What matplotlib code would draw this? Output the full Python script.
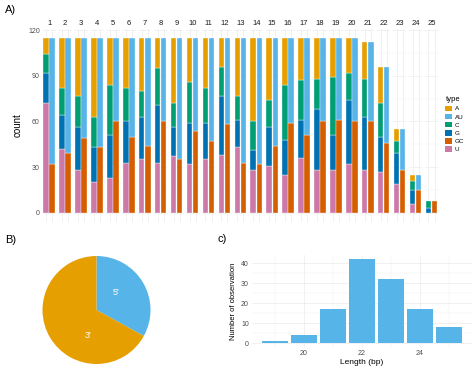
import numpy as np
import matplotlib
matplotlib.use('Agg')
import matplotlib.pyplot as plt
from matplotlib.patches import Patch

plt.rcParams.update({
    'font.family': ['Liberation Sans', 'DejaVu Sans'],
    'font.size': 5,
})

# ─── Panel A: nucleotide / pair counts per position ─────────────────────────
positions = list(range(1, 26))
A  = [11, 33, 38, 52, 31, 33, 35, 20, 43, 29, 33, 19, 38, 55, 41, 31, 28, 27, 26, 23, 24, 24, 8, 4, 0]
C  = [12, 18, 21, 20, 33, 22, 17, 24, 16, 27, 23, 19, 16, 19, 18, 36, 26, 20, 38, 18, 25, 22, 8, 6, 5]
G  = [20, 22, 28, 23, 28, 27, 28, 38, 19, 27, 24, 39, 18, 13, 25, 23, 25, 40, 23, 42, 35, 23, 20, 9, 3]
U  = [72, 42, 28, 20, 23, 33, 35, 33, 37, 32, 35, 38, 43, 28, 31, 25, 36, 28, 28, 32, 28, 27, 19, 6, 0]
GC = [32, 39, 49, 43, 60, 50, 44, 60, 35, 54, 47, 58, 33, 32, 44, 59, 51, 60, 61, 60, 60, 46, 28, 15, 8]
AU = [83, 76, 66, 72, 55, 65, 71, 55, 80, 61, 68, 57, 82, 83, 71, 56, 64, 55, 54, 55, 52, 50, 27, 10, 0]

# ─── Panel B: arm share ─────────────────────────────────────────────────────
arm_labels = ["5'", "3'"]
arm_share = [33, 67]

# ─── Panel C: length histogram ──────────────────────────────────────────────
lengths = [19, 20, 21, 22, 23, 24, 25]
n_obs   = [1, 4, 17, 42, 32, 17, 8]

COL = {'A': '#E69F00', 'AU': '#56B4E9', 'C': '#009E73',
       'G': '#0072B2', 'GC': '#D55E00', 'U': '#CC79A7'}
GRID = '#EBEBEB'
TXT = '#4D4D4D'

W, H = 474, 367
fig = plt.figure(figsize=(W / 100, H / 100), dpi=100)

# facets
left_px, right_px = 42.5, 438.2
top_f, bot_f = 1 - 28.9 / H, 1 - 221.5 / H
gs = fig.add_gridspec(1, 25, left=left_px / W, right=right_px / W,
                      top=top_f, bottom=bot_f, wspace=0.19)
ymax = 115
for i, p in enumerate(positions):
    ax = fig.add_subplot(gs[0, i])
    bottom = 0
    for key, vals in [('U', U), ('G', G), ('C', C), ('A', A)]:
        v = vals[i]
        if v > 0:
            ax.bar(1, v, 0.9, bottom=bottom, color=COL[key], edgecolor='white', linewidth=0.25)
        bottom += v
    bottom = 0
    for key, vals in [('GC', GC), ('AU', AU)]:
        v = vals[i]
        if v > 0:
            ax.bar(2, v, 0.9, bottom=bottom, color=COL[key], edgecolor='white', linewidth=0.25)
        bottom += v
    ax.set_xlim(0.4, 2.6)
    ax.set_ylim(-0.05 * ymax, 1.05 * ymax)
    ax.set_xticks([1, 2])
    ax.set_xticklabels([])
    ax.set_yticks([0, 30, 60, 90, 120])
    ax.set_yticks([15, 45, 75, 105], minor=True)
    ax.grid(True, which='major', color=GRID, lw=0.5)
    ax.grid(True, which='minor', axis='y', color=GRID, lw=0.25)
    ax.set_axisbelow(True)
    ax.tick_params(length=0, which='both', labelsize=5, colors=TXT, pad=2)
    for s in ax.spines.values():
        s.set_visible(False)
    ax.set_title(str(p), fontsize=5.5, color='#1A1A1A', pad=3)
    if i == 0:
        ax.set_ylabel('count', fontsize=7, color='black', labelpad=4)
    else:
        ax.set_yticklabels([])

handles = [Patch(facecolor=COL[k], edgecolor='none', label=k) for k in ['A', 'AU', 'C', 'G', 'GC', 'U']]
leg = fig.legend(handles=handles, title='type', loc='upper left',
                 bbox_to_anchor=(441 / W, 1 - 92 / H), frameon=False,
                 fontsize=4.5, title_fontsize=5.5, handlelength=1.0, handleheight=1.0,
                 labelspacing=0.35, handletextpad=0.5, borderpad=0.2)
leg._legend_box.align = 'left'

# pie
cx, cy, r = 96.5, 310, 54
axp = fig.add_axes([(cx - r) / W, 1 - (cy + r) / H, 2 * r / W, 2 * r / H])
axp.pie(arm_share, colors=[COL['AU'], COL['A']], startangle=90, counterclock=False,
        wedgeprops=dict(linewidth=0))
axp.set_xlim(-1, 1)
axp.set_ylim(-1, 1)
axp.text(0.36, 0.33, arm_labels[0], color='white', fontsize=6.5, ha='center', va='center')
axp.text(-0.16, -0.48, arm_labels[1], color='white', fontsize=6.5, ha='center', va='center')

# histogram
axh = fig.add_axes([251.5 / W, 1 - 347.5 / H, (472.1 - 251.5) / W, (347.5 - 255.1) / H])
axh.bar(lengths, n_obs, 0.9, color=COL['AU'])
axh.set_xlim(18.205, 25.795)
axh.set_ylim(-2.1, 44.1)
axh.set_xticks([20, 22, 24])
axh.set_xticks([19, 21, 23, 25], minor=True)
axh.set_yticks([0, 10, 20, 30, 40])
axh.set_yticks([5, 15, 25, 35], minor=True)
axh.grid(True, which='major', color=GRID, lw=0.5)
axh.grid(True, which='minor', color=GRID, lw=0.25)
axh.set_axisbelow(True)
axh.tick_params(length=0, which='both', labelsize=5, colors=TXT, pad=2)
for s in axh.spines.values():
    s.set_visible(False)
axh.set_xlabel('Length (bp)', fontsize=6, labelpad=1)
axh.set_ylabel('Number of observation', fontsize=5.5, labelpad=3)

fig.text(5 / W, 1 - 10 / H, 'A)', fontsize=8, va='center', ha='left')
fig.text(5 / W, 1 - 240 / H, 'B)', fontsize=8, va='center', ha='left')
fig.text(218 / W, 1 - 239 / H, 'c)', fontsize=8, va='center', ha='left')

fig.savefig('out.png', dpi=100)
